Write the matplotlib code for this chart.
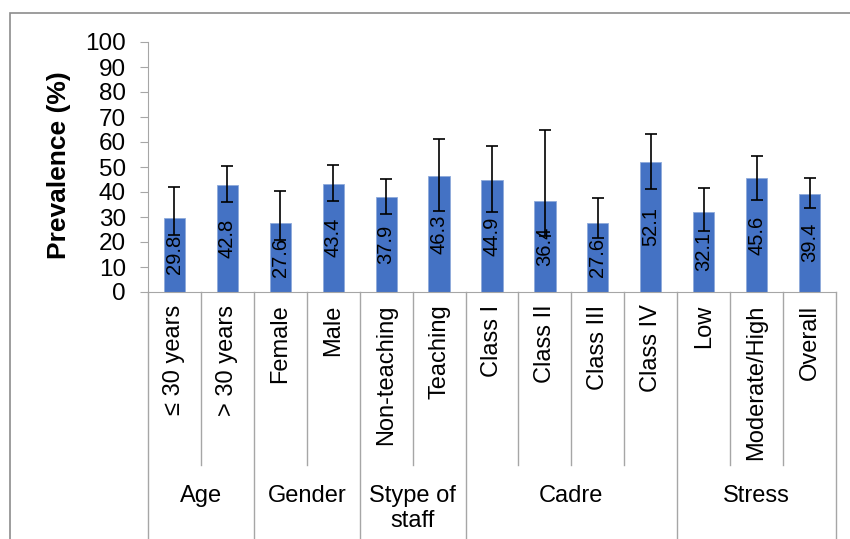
import matplotlib.pyplot as plt
from matplotlib.patches import Rectangle

plt.rcParams['font.family'] = ['Liberation Sans', 'DejaVu Sans']

# -------------------- Data --------------------
categories = ["\u2264 30 years", "> 30 years", "Female", "Male", "Non-teaching", "Teaching",
              "Class I", "Class II", "Class III", "Class IV", "Low", "Moderate/High", "Overall"]
prevalence = [29.8, 42.8, 27.6, 43.4, 37.9, 46.3, 44.9, 36.4, 27.6, 52.1, 32.1, 45.6, 39.4]
ci_upper = [42.1, 50.4, 40.5, 50.9, 45.1, 61.1, 58.5, 64.7, 37.5, 63.1, 41.5, 54.4, 45.6]
ci_lower = [22.8, 35.9, 21.0, 36.5, 31.3, 32.5, 32.0, 22.4, 21.5, 41.1, 24.3, 36.9, 33.5]
groups = ["Age", "Gender", "Stype of\nstaff", "Cadre", "Stress"]
group_sizes = [2, 2, 2, 4, 3]

BAR = "#4472C4"
LINE = "#a6a6a6"

# -------------------- Plot --------------------
W, H = 850, 539
fig = plt.figure(figsize=(W / 100, H / 100), dpi=100)
ax = fig.add_axes([148 / W, (H - 292) / H, (836 - 148) / W, 250 / H])

# outer chart border
fig.add_artist(Rectangle((10 / W, -0.1), 1.0, 1 - 13 / H + 0.1, transform=fig.transFigure,
                         fill=False, ec="#8c8c8c", lw=1.2))

x = list(range(len(categories)))
ax.bar(x, prevalence, width=0.4, color=BAR, edgecolor="#8eaadb", linewidth=0.6, zorder=2)
yerr = [[v - lo for v, lo in zip(prevalence, ci_lower)],
        [hi - v for v, hi in zip(prevalence, ci_upper)]]
ax.errorbar(x, prevalence, yerr=yerr, fmt="none", ecolor="black", elinewidth=1.2,
            capsize=4.5, capthick=1.2, zorder=3)

for xi, v in zip(x, prevalence):
    ax.text(xi, v / 2, f"{v:.1f}", rotation=90, ha="center", va="center",
            fontsize=14.5, color="black", zorder=4)

ax.set_xlim(-0.5, len(categories) - 0.5)
ax.set_ylim(0, 100)
ax.set_yticks(range(0, 101, 10))
ax.tick_params(axis="y", labelsize=17.5, length=6, color=LINE, pad=10)
ax.set_xticks(x)
ax.set_xticklabels(categories, rotation=90, fontsize=17, va="top", ha="center")
ax.tick_params(axis="x", length=0, pad=9)

for s in ["top", "right"]:
    ax.spines[s].set_visible(False)
ax.spines["left"].set_color(LINE)
ax.spines["bottom"].set_color(LINE)

fig.text(59 / W, 1 - 165 / H, "Prevalence (%)", rotation=90, ha="center", va="center",
         fontsize=19, fontweight="bold")

# multi-level category separators
trans = ax.get_xaxis_transform()
inner_bottom = (292 - 465) / 250
outer_bottom = -1.2
bounds = set()
pos = 0
for size in group_sizes:
    pos += size
    bounds.add(pos)
for b in range(len(categories) + 1):
    xb = b - 0.5
    y0 = outer_bottom if (b == 0 or b in bounds) else inner_bottom
    ax.plot([xb, xb], [0, y0], transform=trans, color=LINE, lw=1, clip_on=False)

start = 0
for name, size in zip(groups, group_sizes):
    cx = start + (size - 1) / 2
    ax.text(cx, (292 - 485) / 250, name, transform=trans, ha="center", va="top",
            fontsize=17, linespacing=1.2)
    start += size

fig.savefig("out.png", dpi=100)
